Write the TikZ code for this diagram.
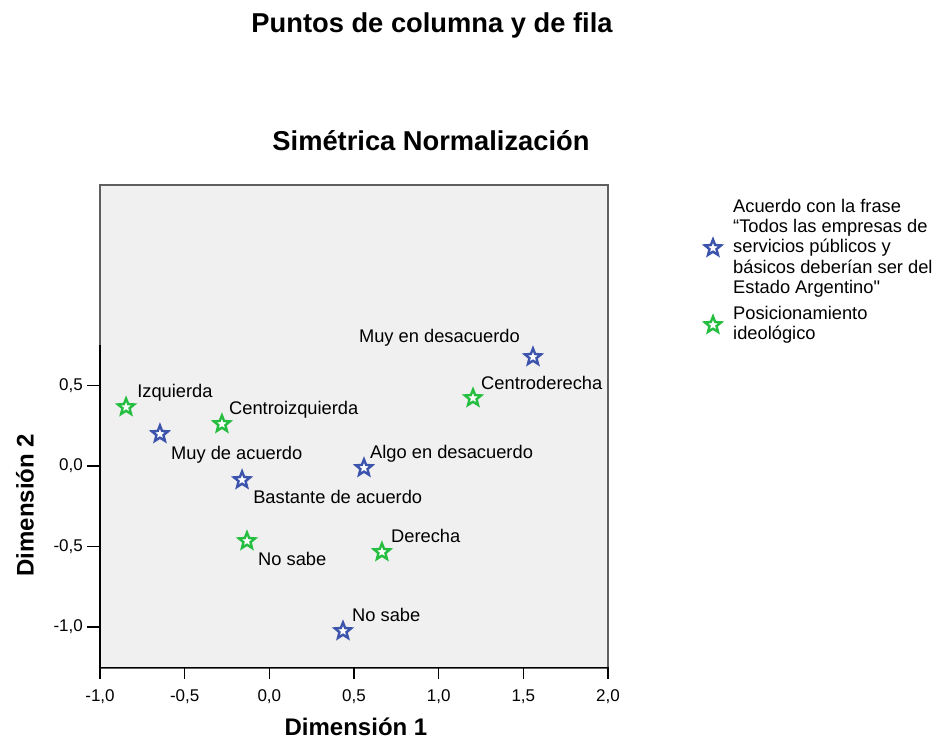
\documentclass[tikz,border=0pt]{standalone}
\usepackage{fontspec}
\setmainfont{Liberation Sans}
\usetikzlibrary{shapes.geometric,positioning}
\definecolor{catblue}{RGB}{61,84,173}
\definecolor{catgreen}{RGB}{37,190,65}
\definecolor{panel}{RGB}{240,240,240}
\definecolor{frame}{RGB}{95,95,95}
\newcommand{\straightq}{{\addfontfeatures{Ligatures=TeXOff}"}}
\tikzset{
  pt/.style      = {star, star points=5, star point ratio=2.3, minimum size=17pt,
                    inner sep=0pt, line width=2.4pt, fill=white},
  row/.style     = {pt, draw=catblue},
  col/.style     = {pt, draw=catgreen},
  lbl/.style     = {font=\fontsize{18.3}{20}\selectfont, inner sep=0pt,
                    text height=0.72em, text depth=0.2em, yshift=-3pt},
  ticklbl/.style = {font=\fontsize{17}{19}\selectfont, inner sep=0pt},
  axtitle/.style = {font=\fontsize{24}{26}\selectfont\bfseries, inner sep=0pt},
  title/.style   = {font=\fontsize{27.3}{29}\selectfont\bfseries, inner sep=0pt},
  legend/.style  = {font=\fontsize{18.3}{20.3}\selectfont, inner sep=0pt, align=left}
}

\begin{document}
\begin{tikzpicture}[x=1pt,y=-1pt]
\useasboundingbox (0,0) rectangle (937,740);

% titles
\node[title] (t1) at (432,25) {Puntos de columna y de fila};
\node[title] (t2) at (431,141) {Simétrica Normalización};

% panel and axes
\draw[frame, fill=panel, line width=1.2pt] (100,185) rectangle (608,668);

\begin{scope}[shift={(269.33,466)}, x=169.33pt, y=161pt]
\draw[line width=1.5pt] (-1,0.75) -- (-1,-1.25) -- (2,-1.25);

\foreach \v/\t in {-1/{-1,0},-0.5/{-0,5},0/{0,0},0.5/{0,5},1/{1,0},1.5/{1,5},2/{2,0}}{
  \draw[line width=1.5pt] (\v,-1.25) -- ++(0,-12pt);
  \node[ticklbl] at (\v,-1.25) [yshift=-29pt] {\t};
}
\foreach \v/\t in {0.5/{0,5},0/{0,0},-0.5/{-0,5},-1/{-1,0}}{
  \draw[line width=1.5pt] (-1,\v) -- ++(-13pt,0);
  \node[ticklbl, anchor=east] at (-1,\v) [xshift=-17pt] {\t};
}

% Acuerdo con la frase
\node[row] (r1) at (-0.646, 0.199) {};
\node[row] (r2) at (-0.161,-0.087) {};
\node[row] (r3) at ( 0.559,-0.012) {};
\node[row] (r4) at ( 1.557, 0.677) {};
\node[row] (r5) at ( 0.435,-1.025) {};

% Posicionamiento ideologico
\node[col] (c1) at (-0.846, 0.366) {};
\node[col] (c2) at (-0.280, 0.261) {};
\node[col] (c3) at ( 1.203, 0.422) {};
\node[col] (c4) at ( 0.665,-0.534) {};
\node[col] (c5) at (-0.132,-0.466) {};
\end{scope}

% point labels
\node[lbl, anchor=west, xshift=11pt, yshift=-20pt] (lr1) at (r1) {Muy de acuerdo};
\node[lbl, anchor=west, xshift=11pt, yshift=-18pt] (lr2) at (r2) {Bastante de acuerdo};
\node[lbl, anchor=west, xshift=6pt,  yshift=15pt]  (lr3) at (r3) {Algo en desacuerdo};
\node[lbl, anchor=east, xshift=-13pt, yshift=20pt] (lr4) at (r4) {Muy en desacuerdo};
\node[lbl, anchor=west, xshift=9pt,  yshift=15pt]  (lr5) at (r5) {No sabe};

\node[lbl, anchor=west, xshift=11pt, yshift=15pt]  (lc1) at (c1) {Izquierda};
\node[lbl, anchor=west, xshift=7pt,  yshift=15pt]  (lc2) at (c2) {Centroizquierda};
\node[lbl, anchor=west, xshift=8pt,  yshift=14pt]  (lc3) at (c3) {Centroderecha};
\node[lbl, anchor=west, xshift=9pt,  yshift=15pt]  (lc4) at (c4) {Derecha};
\node[lbl, anchor=west, xshift=11pt, yshift=-19pt] (lc5) at (c5) {No sabe};

% axis titles
\node[axtitle, anchor=base] (xt) at (356,735) {Dimensión 1};
\node[axtitle, rotate=90] (yt) at (25,505) {Dimensión 2};

% legend
\node[row] (k1) at (713,248) {};
\node[legend, anchor=west, xshift=20pt] (kt1) at (k1)
  {Acuerdo con la frase\\“Todos las empresas de\\servicios públicos y\\básicos deberían ser del\\Estado Argentino\straightq};
\node[col] (k2) at (713,325) {};
\node[legend, anchor=west, xshift=20pt] (kt2) at (k2) {Posicionamiento\\ideológico};
\end{tikzpicture}
\end{document}
